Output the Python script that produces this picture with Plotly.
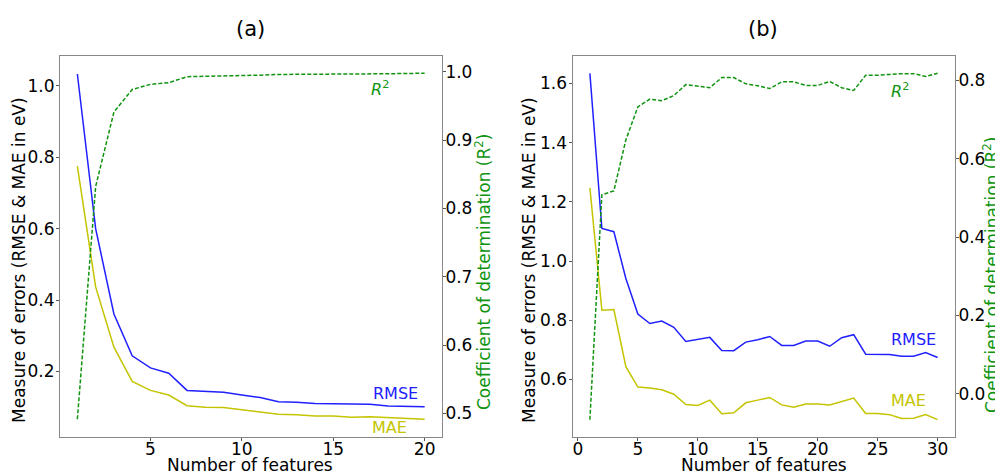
import plotly.graph_objects as go

# ---- Data: panel (a) ----
feat_a = list(range(1, 21))
rmse_a = [1.033, 0.600, 0.361, 0.244, 0.210, 0.195, 0.147, 0.144, 0.142, 0.134,
          0.127, 0.115, 0.114, 0.110, 0.109, 0.108, 0.108, 0.103, 0.101, 0.101]
mae_a = [0.775, 0.437, 0.268, 0.172, 0.147, 0.134, 0.104, 0.100, 0.099, 0.093,
         0.087, 0.080, 0.079, 0.0755, 0.075, 0.072, 0.073, 0.070, 0.067, 0.066]
r2_a = [0.4915, 0.832, 0.941, 0.974, 0.9815, 0.984, 0.9927, 0.993, 0.9935, 0.994,
        0.995, 0.996, 0.996, 0.9962, 0.9965, 0.9968, 0.997, 0.997, 0.9975, 0.9977]

# ---- Data: panel (b) ----
feat_b = list(range(1, 31))
rmse_b = [1.634, 1.110, 1.099, 0.941, 0.821, 0.789, 0.797, 0.776, 0.728, 0.735,
          0.742, 0.698, 0.697, 0.726, 0.734, 0.745, 0.715, 0.715, 0.730, 0.730,
          0.712, 0.741, 0.751, 0.685, 0.685, 0.684, 0.678, 0.678, 0.691, 0.674]
mae_b = [1.247, 0.834, 0.836, 0.643, 0.574, 0.571, 0.565, 0.550, 0.515, 0.512,
         0.530, 0.484, 0.487, 0.521, 0.530, 0.539, 0.514, 0.506, 0.517, 0.517,
         0.514, 0.525, 0.537, 0.485, 0.485, 0.481, 0.468, 0.469, 0.481, 0.464]
r2_b = [-0.066, 0.508, 0.518, 0.648, 0.732, 0.752, 0.748, 0.761, 0.789, 0.785,
        0.781, 0.807, 0.807, 0.791, 0.786, 0.779, 0.796, 0.796, 0.787, 0.787,
        0.797, 0.781, 0.774, 0.813, 0.813, 0.815, 0.817, 0.817, 0.810, 0.818]

x_title = "Number of features"
yl_title = "Measure of errors (RMSE & MAE in eV)"
yr_title = "Coefficient of determination (R<sup>2</sup>)"

BLUE = "#2020ff"
YELLOW = "#c4c400"
GREEN = "#109410"
FONT = "DejaVu Sans"

# page body has an 8px margin; figure is sized so it fills the rest of the window
OFF = 8
W, H = 1003 - OFF, 474 - OFF

def px_x(p):
    return (p - OFF) / W

def px_y(p):
    return 1 - (p - OFF) / H

fig = go.Figure()
fig.add_trace(go.Scatter(x=feat_a, y=rmse_a, mode="lines", line=dict(color=BLUE, width=1.5),
                         xaxis="x", yaxis="y", showlegend=False))
fig.add_trace(go.Scatter(x=feat_a, y=mae_a, mode="lines", line=dict(color=YELLOW, width=1.5),
                         xaxis="x", yaxis="y", showlegend=False))
fig.add_trace(go.Scatter(x=feat_a, y=r2_a, mode="lines", line=dict(color=GREEN, width=1.5, dash="4px,2px"),
                         xaxis="x", yaxis="y2", showlegend=False))
fig.add_trace(go.Scatter(x=feat_b, y=rmse_b, mode="lines", line=dict(color=BLUE, width=1.5),
                         xaxis="x2", yaxis="y3", showlegend=False))
fig.add_trace(go.Scatter(x=feat_b, y=mae_b, mode="lines", line=dict(color=YELLOW, width=1.5),
                         xaxis="x2", yaxis="y3", showlegend=False))
fig.add_trace(go.Scatter(x=feat_b, y=r2_b, mode="lines", line=dict(color=GREEN, width=1.5, dash="4px,2px"),
                         xaxis="x2", yaxis="y4", showlegend=False))

dom_a = [px_x(60), px_x(442)]
dom_b = [px_x(572.5), px_x(955)]
dom_y = [px_y(437), px_y(56)]

tickfont = dict(family=FONT, size=17, color="black")
axcommon = dict(showline=True, linecolor="#888888", linewidth=1, ticks="outside",
                ticklen=3, tickcolor="#555555", showgrid=False, zeroline=False,
                tickfont=tickfont)

fig.update_layout(
    width=W, height=H,
    margin=dict(l=0, r=0, t=0, b=0),
    paper_bgcolor="white", plot_bgcolor="white",
    font=dict(family=FONT, size=17, color="black"),
    xaxis=dict(domain=dom_a, range=[0.05, 20.95], tickvals=[5, 10, 15, 20], mirror=True,
               anchor="y", ticklabelstandoff=-6, **axcommon),
    yaxis=dict(domain=dom_y, range=[0.0165, 1.0835], tickvals=[0.2, 0.4, 0.6, 0.8, 1.0],
               tickformat=".1f", anchor="x", ticklabelstandoff=-2, **axcommon),
    yaxis2=dict(domain=dom_y, range=[0.4655, 1.023], tickvals=[0.5, 0.6, 0.7, 0.8, 0.9, 1.0],
                tickformat=".1f", overlaying="y", side="right", anchor="x",
                ticklabelstandoff=-4, **axcommon),
    xaxis2=dict(domain=dom_b, range=[-0.45, 31.45], tickvals=[0, 5, 10, 15, 20, 25, 30], mirror=True,
                anchor="y3", ticklabelstandoff=-6, **axcommon),
    yaxis3=dict(domain=dom_y, range=[0.4055, 1.6925], tickvals=[0.6, 0.8, 1.0, 1.2, 1.4, 1.6],
                tickformat=".1f", anchor="x2", ticklabelstandoff=-2, **axcommon),
    yaxis4=dict(domain=dom_y, range=[-0.11, 0.862], tickvals=[0.0, 0.2, 0.4, 0.6, 0.8],
                tickformat=".1f", overlaying="y3", side="right", anchor="x2",
                ticklabelstandoff=-4, **axcommon),
)

annots = [
    dict(text="(a)", x=250, y=29, size=21, color="black", angle=0),
    dict(text="(b)", x=763, y=29, size=21, color="black", angle=0),
    dict(text="RMSE", x=395, y=393, size=16, color=BLUE, angle=0),
    dict(text="MAE", x=389, y=427, size=16, color=YELLOW, angle=0),
    dict(text="<i>R</i><sup>2</sup>", x=380, y=88, size=16, color=GREEN, angle=0),
    dict(text="RMSE", x=913, y=339.5, size=16, color=BLUE, angle=0),
    dict(text="MAE", x=908, y=400, size=16, color=YELLOW, angle=0),
    dict(text="<i>R</i><sup>2</sup>", x=900, y=90, size=16, color=GREEN, angle=0),
    # axis titles
    dict(text=x_title, x=250, y=464.5, size=17, color="black", angle=0),
    dict(text=x_title, x=764, y=464.5, size=17, color="black", angle=0),
    dict(text=yl_title, x=19, y=260, size=17, color="black", angle=-90),
    dict(text=yl_title, x=529, y=260, size=17, color="black", angle=-90),
    dict(text=yr_title, x=483, y=272, size=17, color=GREEN, angle=-90),
    dict(text=yr_title, x=991, y=275, size=17, color=GREEN, angle=-90),
]
for a in annots:
    fig.add_annotation(text=a["text"], x=px_x(a["x"]), y=px_y(a["y"]), xref="paper", yref="paper",
                       showarrow=False, xanchor="center", yanchor="middle", textangle=a["angle"],
                       font=dict(family=FONT, size=a["size"], color=a["color"]))

fig.write_html("out.html")
